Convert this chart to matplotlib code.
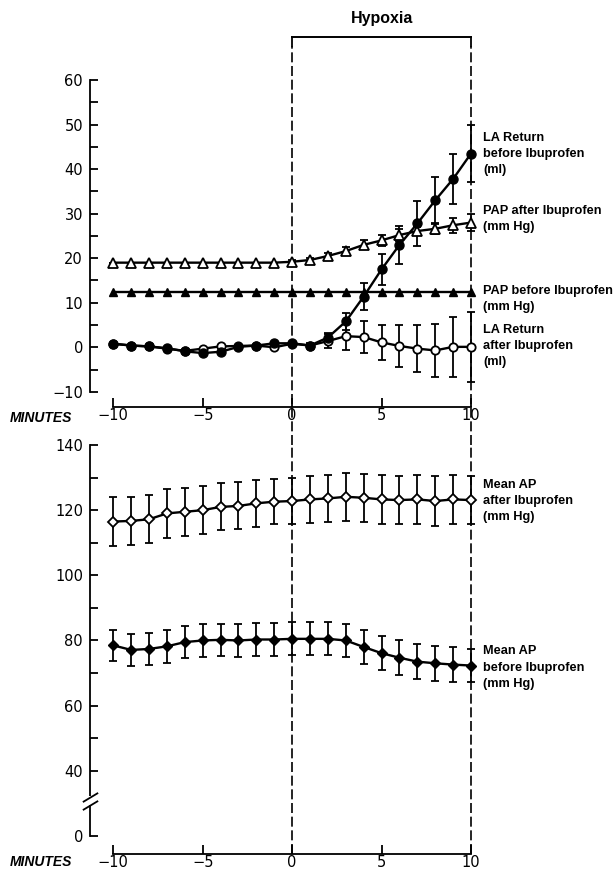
import numpy as np
import matplotlib
matplotlib.use("Agg")
import matplotlib.pyplot as plt
import matplotlib.transforms as mtrans
from matplotlib.path import Path

# ---------------- data ----------------
minutes = [-10, -9, -8, -7, -6, -5, -4, -3, -2, -1, 0, 1, 2, 3, 4, 5, 6, 7, 8, 9, 10]

pap_after = [19.0, 19.0, 19.0, 19.0, 19.0, 19.0, 19.0, 19.0, 19.0, 19.0, 19.2,
             19.6, 20.5, 21.6, 23.0, 24.0, 25.2, 26.1, 26.6, 27.4, 28.0]
pap_after_err = [0, 0, 0, 0, 0, 0, 0, 0, 0, 0, 0.3,
                 0.5, 0.7, 0.9, 1.0, 1.3, 1.3, 0.8, 1.1, 1.7, 1.9]

pap_before = [12.5, 12.5, 12.5, 12.5, 12.5, 12.5, 12.5, 12.5, 12.5, 12.5, 12.5,
              12.5, 12.5, 12.5, 12.5, 12.5, 12.5, 12.5, 12.5, 12.5, 12.5]

la_before = [0.8, 0.4, 0.2, -0.2, -0.9, -1.3, -1.0, 0.1, 0.4, 0.9, 0.9,
             0.4, 2.2, 5.8, 11.4, 17.5, 23.0, 27.8, 33.0, 37.8, 43.5]
la_before_err = [0, 0, 0, 0, 0, 0, 0, 0, 0, 0, 0,
                 0, 1.0, 2.0, 3.0, 3.5, 4.3, 5.0, 5.2, 5.7, 6.5]

la_after = [0.8, 0.4, 0.2, -0.3, -0.8, -0.3, 0.2, 0.3, 0.4, 0.0, 0.8,
            0.4, 1.4, 2.5, 2.3, 1.1, 0.3, -0.3, -0.7, 0.1, 0.1]
la_after_err = [0, 0, 0, 0, 0, 0, 0, 0, 0, 0, 0,
                0.5, 1.5, 3.2, 3.5, 3.9, 4.7, 5.2, 6.0, 6.8, 7.8]

map_after = [116.5, 116.7, 117.2, 119.0, 119.5, 120.0, 121.0, 121.3, 122.1, 122.6, 122.8,
             123.3, 123.6, 124.1, 123.8, 123.3, 123.1, 123.3, 122.8, 123.3, 123.1]
map_after_err = [7.4, 7.4, 7.4, 7.4, 7.4, 7.3, 7.2, 7.2, 7.2, 7.0, 7.2,
                 7.3, 7.3, 7.3, 7.3, 7.5, 7.5, 7.5, 7.8, 7.5, 7.5]

map_before = [78.5, 77.1, 77.4, 78.2, 79.5, 80.0, 80.2, 80.0, 80.3, 80.3, 80.5,
              80.5, 80.5, 80.0, 78.0, 76.1, 74.7, 73.5, 73.0, 72.6, 72.3]
map_before_err = [4.8, 5.0, 5.0, 5.0, 5.0, 5.0, 5.0, 5.0, 5.0, 5.0, 5.1,
                  5.1, 5.1, 5.1, 5.2, 5.2, 5.3, 5.4, 5.3, 5.3, 5.1]

x_ticks = [-10, -5, 0, 5, 10]
top_major = [-10, 0, 10, 20, 30, 40, 50, 60]
top_minor = [-5, 5, 15, 25, 35, 45, 55]
bot_major = [0, 40, 60, 80, 100, 120, 140]
bot_minor = [50, 70, 90, 110, 130]

# ---------------- figure ----------------
W, H = 616, 871
fig = plt.figure(figsize=(W / 100, H / 100), dpi=100)
fig.patch.set_facecolor("white")

LBL = dict(family="Liberation Sans", weight="bold", fontsize=9.2, linespacing=1.45)
TICKFONT = 10.5

BOT = 854  # pixel row of the lower x axis
ax1 = fig.add_axes([90 / W, 1 - 407 / H, (476.4 - 90) / W, (407 - 80) / H])
ax2 = fig.add_axes([90 / W, 1 - BOT / H, (476.4 - 90) / W, (BOT - 445) / H])
for a in (ax1, ax2):
    a.set_facecolor("none")
    a.set_xlim(-11.3, 10.3)
    for s in ("top", "right"):
        a.spines[s].set_visible(False)
    a.spines["left"].set_linewidth(1.3)
    a.spines["bottom"].set_linewidth(1.3)
    a.spines["bottom"].set_bounds(-10, 10)
    a.set_xticks(x_ticks)
    a.set_xticklabels(["\u221210", "\u22125", "0", "5", "10"])
    a.tick_params(axis="x", direction="in", length=6.5, width=1.3, pad=1.0,
                  labelsize=TICKFONT)
    a.tick_params(axis="y", which="both", direction="in", length=6, width=1.3,
                  pad=5, labelsize=TICKFONT)

# ----- top panel -----
ax1.set_ylim(-13.4, 60)
ax1.spines["left"].set_bounds(-10, 60)
ax1.set_yticks(top_major)
ax1.set_yticklabels(["\u221210", "0", "10", "20", "30", "40", "50", "60"])
ax1.set_yticks(top_minor, minor=True)

common = dict(color="black", lw=1.7, elinewidth=1.3, capsize=3, capthick=1.3,
              zorder=3, clip_on=False)
ax1.errorbar(minutes, pap_after, yerr=pap_after_err, marker="^", ms=6.5,
             mfc="white", mec="black", mew=1.3, **common)
ax1.plot(minutes, pap_before, color="black", lw=1.7, marker="^", ms=5.5,
         mfc="black", mec="black", zorder=3)
ax1.errorbar(minutes, la_after, yerr=la_after_err, marker="o", ms=6,
             mfc="white", mec="black", mew=1.3, **common)
ax1.errorbar(minutes, la_before, yerr=la_before_err, marker="o", ms=6.5,
             mfc="black", mec="black", **common)

# ----- bottom panel (broken axis below 40) -----
def fwd(v):
    v = np.asarray(v, dtype=float)
    return np.where(v >= 40, v, 40 + (v - 40) * 0.5)

def inv(y):
    y = np.asarray(y, dtype=float)
    return np.where(y >= 40, y, 40 + (y - 40) * 2.0)

# pixel 836 holds value 0 -> transformed 20; 3.25 px per unit
ybot_t = 20 - (BOT - 836) / 3.25
ax2.set_yscale("function", functions=(fwd, inv))
ax2.set_ylim(float(inv(ybot_t)), 140)
ax2.spines["left"].set_bounds(0, 140)
ax2.set_yticks(bot_major)
ax2.set_yticklabels([str(v) for v in bot_major])
ax2.set_yticks(bot_minor, minor=True)
ax2.yaxis.set_minor_formatter(plt.NullFormatter())

ax2.errorbar(minutes, map_after, yerr=map_after_err, marker="D", ms=5,
             mfc="white", mec="black", mew=1.3, **common)
ax2.errorbar(minutes, map_before, yerr=map_before_err, marker="D", ms=5.5,
             mfc="black", mec="black", **common)

# axis break marks
tb = mtrans.blended_transform_factory(ax2.transAxes, ax2.transData)
ax2.plot([0, 0], [18.8, 24.5], transform=tb, color="white", lw=4, zorder=5,
         clip_on=False, solid_capstyle="butt")
slash = Path([(-1, -0.6), (1, 0.6)], [Path.MOVETO, Path.LINETO])
ax2.plot([0, 0], [19.0, 24.2], transform=tb, ls="none", marker=slash, ms=11,
         mec="black", mew=1.3, zorder=6, clip_on=False)

# ----- hypoxia bracket & dashed lines -----
t1 = mtrans.blended_transform_factory(ax1.transData, ax1.transAxes)
y_top = (407 - 37) / 327
y_solid = (407 - 46) / 327
y_gap = (407 - 445) / 327
dash = (0, (6, 2.2))
for xv in (0, 10):
    ax1.plot([xv, xv], [y_gap, y_solid], transform=t1, color="black", lw=1.2,
             ls=dash, clip_on=False, zorder=1)
    ax1.plot([xv, xv], [y_solid, y_top], transform=t1, color="black", lw=1.3,
             clip_on=False, zorder=1)
    ax2.axvline(xv, color="black", lw=1.2, ls=dash, zorder=1)
ax1.plot([0, 10], [y_top, y_top], transform=t1, color="black", lw=1.4,
         clip_on=False, solid_capstyle="projecting")
ax1.text(5, (407 - 19) / 327, "Hypoxia", transform=t1, ha="center", va="center",
         family="Liberation Sans", weight="bold", fontsize=11.5)

# ----- series labels -----
xl = 10.67
ax1.text(xl, 43.4, "LA Return\nbefore Ibuprofen\n(ml)", ha="left", va="center", **LBL)
ax1.text(xl, 28.9, "PAP after Ibuprofen\n(mm Hg)", ha="left", va="center", **LBL)
ax1.text(xl, 10.9, "PAP before Ibuprofen\n(mm Hg)", ha="left", va="center", **LBL)
ax1.text(xl, 0.2, "LA Return\nafter Ibuprofen\n(ml)", ha="left", va="center", **LBL)
ax2.text(xl, 122.8, "Mean AP\nafter Ibuprofen\n(mm Hg)", ha="left", va="center", **LBL)
ax2.text(xl, 71.7, "Mean AP\nbefore Ibuprofen\n(mm Hg)", ha="left", va="center", **LBL)

# MINUTES labels
for py in (418, 862):
    fig.text(10 / W, 1 - py / H, "MINUTES", ha="left", va="center",
             family="Liberation Sans", weight="bold", style="italic", fontsize=10)

fig.savefig("out.png", dpi=100)
